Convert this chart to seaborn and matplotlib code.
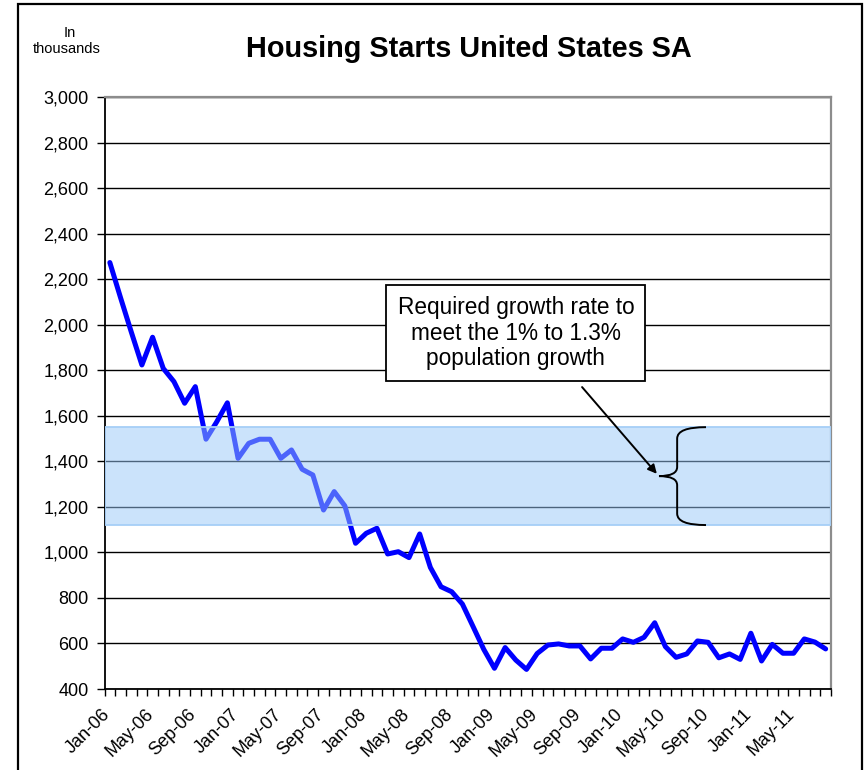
import numpy as np
import pandas as pd
import matplotlib
matplotlib.use("Agg")
import matplotlib.pyplot as plt
import seaborn as sns
from matplotlib.patches import Rectangle, PathPatch
from matplotlib.path import Path
from matplotlib.transforms import ScaledTranslation

# ---------------- data ----------------
starts_2006 = [2273, 2119, 1969, 1823, 1945, 1808, 1750, 1655, 1728, 1497, 1573, 1657]
starts_2007 = [1413, 1479, 1497, 1497, 1413, 1450, 1365, 1340, 1186, 1267, 1204, 1040]
starts_2008 = [1084, 1106, 993, 1003, 977, 1081, 934, 849, 827, 773, 674, 574]
starts_2009 = [491, 582, 527, 486, 556, 593, 598, 589, 589, 532, 579, 579]
starts_2010 = [620, 605, 627, 691, 586, 539, 554, 611, 605, 537, 554, 530]
starts_2011 = [645, 523, 596, 557, 557, 620, 606, 576]
starts = starts_2006 + starts_2007 + starts_2008 + starts_2009 + starts_2010 + starts_2011
months = pd.date_range("2006-01-01", periods=len(starts), freq="MS")

tick_labels = ["Jan-06", "May-06", "Sep-06", "Jan-07", "May-07", "Sep-07",
               "Jan-08", "May-08", "Sep-08", "Jan-09", "May-09", "Sep-09",
               "Jan-10", "May-10", "Sep-10", "Jan-11", "May-11"]
y_ticks = list(range(400, 3001, 200))
band_low, band_high = 1120, 1550
title = "Housing Starts United States SA"
unit_text = ["In", "thousands"]
note = "Required growth rate to\nmeet the 1% to 1.3%\npopulation growth"

df = pd.DataFrame({"idx": np.arange(len(starts)), "month": months, "starts": starts})

# ---------------- style ----------------
sns.set_style("white")
plt.rcParams["font.family"] = ["Liberation Sans", "DejaVu Sans"]
for key in ["text.color", "axes.labelcolor", "xtick.color", "ytick.color"]:
    plt.rcParams[key] = "black"

W, H = 866, 770
fig = plt.figure(figsize=(W / 100, H / 100), dpi=100)
L, R, T, B = 104.5, 831, 97, 689
ax = fig.add_axes([L / W, 1 - B / H, (R - L) / W, (B - T) / H])

sns.lineplot(data=df, x="idx", y="starts", ax=ax, color="#0000FF", lw=3.6,
             solid_joinstyle="round", solid_capstyle="round", zorder=3)

ax.set_xlim(-0.5, len(starts) - 0.5)
ax.set_ylim(400, 3000)
ax.set_xlabel("")
ax.set_ylabel("")

# y axis
ax.set_yticks(y_ticks)
ax.set_yticklabels([f"{v:,}" for v in y_ticks], fontsize=13, color="black")
ax.yaxis.grid(True, color="black", lw=1.0, zorder=1)
ax.set_axisbelow(True)
ax.tick_params(axis="y", direction="out", length=5.5, width=1.0, color="black",
               pad=6, left=True)

# x axis
ax.set_xticks(np.arange(0, len(starts), 4))
ax.set_xticklabels(tick_labels, fontsize=13, rotation=45, ha="right", va="top",
                   rotation_mode="anchor", color="black")
ax.set_xticks(np.arange(-0.5, len(starts), 1), minor=True)
ax.tick_params(axis="x", which="major", length=0, pad=12, bottom=True)
ax.tick_params(axis="x", which="minor", direction="out", length=5, width=1.0,
               color="black", bottom=True)
for lab in ax.get_xticklabels():
    lab.set_transform(lab.get_transform() + ScaledTranslation(-0.08, 0, fig.dpi_scale_trans))

for side in ["left", "bottom"]:
    ax.spines[side].set_color("black")
    ax.spines[side].set_linewidth(1.3)
for side in ["top", "right"]:
    ax.spines[side].set_color("#8c8c8c")
    ax.spines[side].set_linewidth(1.6)

# shaded band (drawn over the line, semi-transparent)
ax.axhspan(band_low, band_high, facecolor=(0.60, 0.79, 0.976, 0.5),
           edgecolor="#a6cff7", lw=1.3, zorder=4)

# annotation box and arrow
ax.text(38.0, 1963, note, ha="center", va="center", fontsize=16.3, linespacing=1.12,
        color="black", zorder=6,
        bbox=dict(boxstyle="square,pad=0.5", fc="white", ec="black", lw=1.3))
ax.annotate("", xy=(51.2, 1345), xytext=(44.2, 1726),
            arrowprops=dict(arrowstyle="-|>", color="black", lw=1.4,
                            mutation_scale=13, shrinkA=0, shrinkB=0), zorder=6)

# curly brace
xr, xm, xt = 55.8, 53.1, 51.4
mid = (band_low + band_high) / 2
r1, r2 = 50, 40
verts = [(xr, band_high), (xm, band_high), (xm, band_high - r1),
         (xm, mid + r2),
         (xm, mid), (xt, mid),
         (xm, mid), (xm, mid - r2),
         (xm, band_low + r1),
         (xm, band_low), (xr, band_low)]
codes = [Path.MOVETO, Path.CURVE3, Path.CURVE3,
         Path.LINETO,
         Path.CURVE3, Path.CURVE3,
         Path.CURVE3, Path.CURVE3,
         Path.LINETO,
         Path.CURVE3, Path.CURVE3]
ax.add_patch(PathPatch(Path(verts, codes), fill=False, ec="black", lw=1.4, zorder=6))

# titles
fig.text(468.5 / W, 1 - 57 / H, title, ha="center", va="baseline",
         fontsize=20.8, fontweight="bold", color="black")
fig.text(70 / W, 1 - 37 / H, unit_text[0], ha="center", va="baseline",
         fontsize=10.5, color="black")
fig.text(67 / W, 1 - 53 / H, unit_text[1], ha="center", va="baseline",
         fontsize=10.5, color="black")

# outer frame
fig.add_artist(Rectangle((18 / W, -0.05), (862 - 18) / W, 1.05 - 4.5 / H,
                         transform=fig.transFigure, fill=False, ec="black",
                         lw=1.6, clip_on=False))

fig.savefig("out.png", dpi=100)
